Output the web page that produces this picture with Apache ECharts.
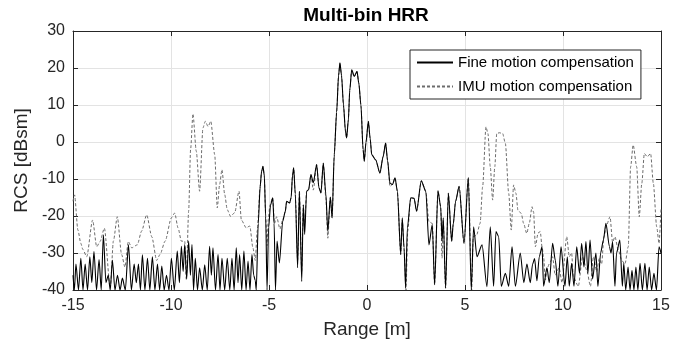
<!DOCTYPE html>
<html>
<head>
<meta charset="utf-8">
<script src="https://cdn.jsdelivr.net/npm/echarts@6/dist/echarts.min.js"></script>
<style>html,body{margin:0;padding:0;background:#fff}#c{width:688px;height:344px}</style>
</head>
<body>
<div id="c"></div>
<script>
// Range [m] / RCS [dBsm]
var fineX = [-15.0,-14.93,-14.85,-14.72,-14.6,-14.49,-14.38,-14.26,-14.14,-14.04,-13.93,-13.8,-13.67,-13.56,-13.45,-13.32,-13.2,-13.1,-12.99,-12.86,-12.73,-12.6,-12.48,-12.33,-12.17,-12.02,-11.88,-11.77,-11.66,-11.56,-11.46,-11.33,-11.2,-11.08,-10.95,-10.82,-10.69,-10.58,-10.47,-10.35,-10.23,-10.1,
-9.98,-9.83,-9.68,-9.57,-9.47,-9.38,-9.3,-9.2,-9.1,-9.01,-8.93,-8.85,-8.76,-8.65,-8.54,-8.4,-8.28,-8.15,-8.03,-7.94,-7.86,-7.73,-7.6,-7.5,-7.4,-7.26,-7.13,-7.0,-6.89,-6.78,-6.67,-6.58,-6.5,-6.39,-6.28,-6.17,-6.07,-5.97,-5.87,-5.78,-5.7,-5.65,
-5.55,-5.45,-5.38,-5.31,-5.24,-5.17,-5.1,-5.02,-4.92,-4.81,-4.74,-4.67,-4.59,-4.47,-4.3,-4.17,-4.1,-3.95,-3.87,-3.8,-3.74,-3.66,-3.54,-3.45,-3.33,-3.25,-3.18,-3.08,-2.98,-2.86,-2.74,-2.57,-2.45,-2.35,-2.23,-2.1,-2.0,-1.87,-1.78,-1.67,-1.55,-1.45,-1.38,-1.3,-1.2,-1.1,-1.04,-0.95,-0.88,-0.78,-0.65,-0.51,-0.42,-0.31,-0.2,-0.14,-0.05,0.07,0.16,0.24,0.44,0.66,0.82,0.95,1.05,1.17,1.3,1.43,1.55,1.72,1.8,1.89,1.97,2.06,2.23,2.4,2.53,2.77,3.0,3.16,3.33,3.45,3.62,3.76,3.83,3.89,4.01,4.15,4.32,4.4,4.52,4.7,4.95,5.17,5.32,
5.44,5.61,5.87,6.12,6.29,6.46,6.58,6.72,6.85,7.06,7.23,7.4,7.57,7.82,8.0,8.16,8.33,8.45,8.55,8.67,8.79,8.93,9.01,9.18,9.3,9.47,9.61,9.74,9.9,10.1,10.22,10.32,10.44,10.56,10.7,10.84,10.95,11.07,11.17,11.27,11.38,11.51,11.68,11.78,11.92,12.06,12.19,12.37,12.45,12.53,12.65,12.73,12.9,13.03,13.1,13.2,13.32,13.42,13.52,13.62,13.72,13.82,13.93,14.05,14.18,14.29,14.4,14.52,14.64,14.77,14.9,15.0];
var fineY = [-36,-40,-33,-40,-31.4,-40,-33,-40,-31,-38,-29.6,-40,-31.8,-40,-25.1,-38,-36,-40,-31.9,-40,-36,-40,-36.8,-40,-27.8,-40,-33,-38,-33,-40,-30.5,-40,-31.4,-40,-31,-40,-33,-40,-33.5,-40,-36,-40,
-31.4,-40,-29.5,-38,-28.2,-35,-27.7,-37,-26.8,-36,-27.7,-40,-31.4,-40,-34,-40,-33.2,-40,-28.2,-36,-28.6,-40,-30.4,-40,-31.4,-40,-31.4,-40,-31.4,-40,-28.6,-38,-30.4,-40,-29.5,-40,-32.2,-40,-30.4,-36,-37.5,-40,
-22,-12,-8,-6.6,-9,-20,-40,-23,-17,-15.1,-22,-40,-26.8,-32.7,-21.4,-18.8,-16,-16.5,-15,-9,-7,-14,-34,-13.3,-37.7,-17,-25,-13.3,-12.9,-8.8,-11,-6.1,-12.4,-13.8,-5.7,-14,-24.1,-14.9,-20.5,-3.4,8,18,21.4,18,10,3,1.1,6,14,19.5,17.7,19.1,16,10,-2,-5.2,0,5.6,1,-3.4,-4.8,-8.4,-4,-0.3,-5,-11.1,-11.5,-9.7,-13.3,-30.4,-20.5,-28.6,-39.5,-23.2,-15.1,-15.2,-18.7,-10.5,-13.3,-27.8,-22.3,-38.6,-13.2,-17.5,-26.8,-20.5,-39.5,-13.8,-26.8,-22.2,-16,-12,-27.4,-9.6,-40,
-22.9,-31,-27.8,-39.1,-22.9,-39,-24.2,-25.6,-39,-35.5,-39,-28.3,-39,-30,-38,-33,-38,-33,-31.5,-37.5,-31,-28.3,-39,-34,-38,-27.4,-32,-39,-28.3,-39,-31,-39,-32.8,-39,-28.3,-35.5,-27.4,-33.8,-26.9,-35.5,-26.5,-37,-30,-39,-30,-26.5,-22,-28.3,-30,-27,-39,-30,-26.5,-39,-32.8,-40,-33.8,-40,-34.7,-40,-33.8,-40,-32.8,-40,-32.8,-40,-33.8,-40,-35.5,-40,-28.3,-30];

var imuX = [-15.0,-14.92,-14.75,-14.6,-14.5,-14.3,-14.0,-13.79,-13.62,-13.4,-13.1,-12.94,-12.74,-12.52,-12.35,-12.18,-12.0,-11.72,-11.5,-11.24,-10.98,-10.73,-10.56,-10.3,-9.98,-9.81,-9.64,-9.47,-9.3,-9.22,-9.1,-9.0,-8.88,-8.71,-8.54,-8.37,-8.25,-8.11,-7.97,-7.77,-7.64,-7.52,-7.4,-7.26,-7.13,-6.96,-6.75,-6.53,-6.41,-6.16,-5.98,-5.82,-5.7,
-5.6,-5.45,-5.38,-5.31,-5.24,-5.17,-5.1,-5.04,-4.95,-4.81,-4.72,-4.61,-4.44,-4.3,-4.17,-4.1,-3.95,-3.87,-3.8,-3.74,-3.66,-3.54,-3.45,-3.33,-3.25,-3.18,-3.08,-2.98,-2.86,-2.74,-2.57,-2.45,-2.35,-2.23,-2.1,-2.0,-1.87,-1.78,-1.67,-1.55,-1.45,-1.38,-1.3,-1.2,-1.1,-1.04,-0.95,-0.88,-0.78,-0.65,-0.51,-0.42,-0.31,-0.2,-0.14,-0.05,0.07,0.16,0.24,0.44,0.66,0.82,0.95,1.05,1.17,1.3,1.43,1.55,1.72,1.8,1.89,1.99,2.08,2.23,2.4,2.53,2.77,3.0,3.16,3.33,3.45,3.62,3.76,3.83,3.89,4.01,4.15,4.32,4.4,4.52,4.7,4.95,5.17,5.34,
5.42,5.59,5.77,5.9,6.07,6.17,6.29,6.41,6.52,6.62,6.75,6.92,7.06,7.23,7.36,7.48,7.6,7.7,7.87,7.99,8.15,8.28,8.42,8.5,8.59,8.73,8.84,8.93,9.01,9.1,9.2,9.35,9.47,9.6,9.8,9.95,10.19,10.32,10.44,10.53,10.78,11.0,11.21,11.4,11.55,11.72,11.85,11.97,12.09,12.22,12.4,12.53,12.65,12.82,13.0,13.16,13.33,13.45,13.58,13.76,13.89,14.02,14.15,14.3,14.47,14.61,14.78,14.9,15.0];
var imuY = [-16,-14.3,-23.8,-27.4,-29,-31,-21.1,-28.3,-26.9,-23.3,-39.5,-26.8,-20.2,-30.4,-33.8,-26.9,-28.6,-27.8,-24.1,-19.7,-25.6,-32,-30.4,-26.8,-20.5,-19.2,-23.2,-26.8,-26.8,-37.2,-18.7,-2,7.6,-2.5,-13.3,3.8,5.6,4.2,5.6,-3.4,-17.8,-11.5,-7.5,-14.2,-18.3,-20.1,-19.1,-13.3,-21.1,-23.2,-22.7,-28.6,-32,
-24,-12,-8,-6.6,-9,-20,-28,-21,-17,-15.1,-22,-20.2,-23.5,-21,-18.8,-16,-16.5,-15,-9,-7,-14,-32,-13.3,-35,-17,-22,-13.3,-12.9,-8.8,-13,-6.1,-12.4,-13.8,-5.7,-15,-26,-14.9,-20.5,-3.4,8,18,21.4,18,10,3,1.1,6,14,19.5,17.7,19.1,16,10,-2,-5.2,0,5.6,1,-3.4,-4.8,-8.4,-4,-0.3,-5,-12,-11.5,-9.7,-13.3,-30.4,-21,-28.6,-40,-24,-15.1,-15.2,-18.7,-10.5,-13.3,-21.5,-22,-38.6,-13.2,-17.5,-31.4,-21,-39.5,-13.8,-26.8,-22.2,-16,-12,-27.4,-9.6,-40,
-25.6,-25.2,-22,-12.1,4.1,2.3,-6.7,-15.7,-6.7,2.3,2.5,2.3,-0.4,-13.9,-23.8,-11.6,-13.9,-18.4,-19.3,-22,-24.7,-22,-17.5,-19,-28.3,-24.6,-24.2,-28.3,-31,-37.3,-34,-32.4,-31,-36,-34,-38,-25.6,-31,-30,-36.4,-39,-31,-34.6,-39,-31,-35,-31.5,-33,-25.6,-22.5,-20.2,-27.1,-25.6,-29.2,-32,-33,-28.3,-6.7,-0.8,-6.7,-20.2,-11.2,-3.1,-4,-3.1,-11.2,-22.9,-27.4,-18];

var xTicks = [-15,-10,-5,0,5,10,15];
var yTicks = [-40,-30,-20,-10,0,10,20,30];
var titleText = 'Multi-bin HRR';
var seriesNames = ['Fine motion compensation', 'IMU motion compensation'];

function pairs(xs, ys){ var out=[]; for (var i=0;i<xs.length;i++) out.push([xs[i], ys[i]]); return out; }

var chart = echarts.init(document.getElementById('c'));
var axisColor = '#262626';
var font = 'Liberation Sans, Arial, Helvetica, sans-serif';
function axisCommon(extra){
  var o = {
    type: 'value',
    axisLine: { show: true, onZero: false, lineStyle: { color: axisColor, width: 1 } },
    axisTick: { show: true, inside: true, length: 5, lineStyle: { color: axisColor } },
    axisLabel: { fontFamily: font, fontSize: 16, color: axisColor, margin: 8 },
    splitLine: { show: true, lineStyle: { color: '#e3e3e3', width: 1 } }
  };
  for (var k in extra) o[k] = extra[k];
  return o;
}
chart.setOption({
  animation: false,
  backgroundColor: '#fff',
  graphic: [{
    type: 'text', x: 366, y: 6, z: 10,
    style: { text: titleText, textAlign: 'center', textVerticalAlign: 'top',
      font: 'bold 19px ' + font, fill: '#000' }
  }],
  legend: {
    data: seriesNames,
    orient: 'vertical', left: 410, top: 50,
    backgroundColor: '#fff', borderColor: axisColor, borderWidth: 1,
    padding: [5, 7, 5, 6], itemGap: 9, itemWidth: 36, itemHeight: 14,
    itemStyle: { opacity: 0 },
    textStyle: { fontFamily: font, fontSize: 15, color: '#000' }
  },
  grid: { left: 73, right: 27, top: 31, bottom: 54, containLabel: false },
  xAxis: [axisCommon({
    min: xTicks[0], max: xTicks[xTicks.length-1], interval: 5,
    name: 'Range [m]', nameLocation: 'middle', nameGap: 30,
    nameTextStyle: { fontFamily: font, fontSize: 19, color: axisColor }
  }), axisCommon({
    min: xTicks[0], max: xTicks[xTicks.length-1], interval: 5, position: 'top',
    axisLabel: { show: false }, splitLine: { show: false }
  })],
  yAxis: [axisCommon({
    min: yTicks[0], max: yTicks[yTicks.length-1], interval: 10,
    name: 'RCS [dBsm]', nameLocation: 'middle', nameGap: 38,
    nameTextStyle: { fontFamily: font, fontSize: 19, color: axisColor }
  }), axisCommon({
    min: yTicks[0], max: yTicks[yTicks.length-1], interval: 10, position: 'right',
    axisLabel: { show: false }, splitLine: { show: false }
  })],
  series: [{
    name: seriesNames[1], type: 'line', data: pairs(imuX, imuY),
    showSymbol: false, symbol: 'none', clip: true, z: 2, smooth: 0.25, smoothMonotone: 'x',
    lineStyle: { color: '#6c6c6c', width: 1, type: [3, 2] }, itemStyle: { color: '#6c6c6c' }
  }, {
    name: seriesNames[0], type: 'line', data: pairs(fineX, fineY),
    showSymbol: false, symbol: 'none', clip: true, z: 3, smooth: 0.25, smoothMonotone: 'x',
    lineStyle: { color: '#000', width: 1.1 }, itemStyle: { color: '#000' }
  }]
});
</script>
</body>
</html>
